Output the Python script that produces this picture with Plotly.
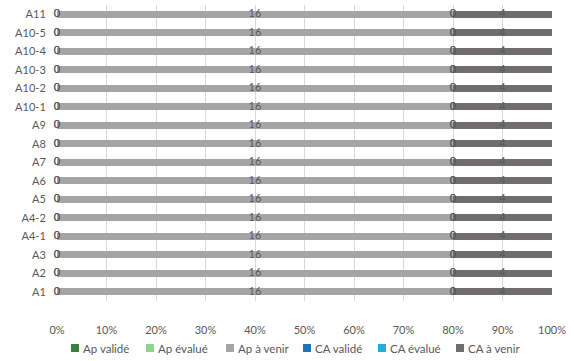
import plotly.graph_objects as go

categories = ["A1", "A2", "A3", "A4-1", "A4-2", "A5", "A6", "A7", "A8", "A9",
              "A10-1", "A10-2", "A10-3", "A10-4", "A10-5", "A11"]
ap_valide = [0] * 16
ap_evalue = [0] * 16
ap_avenir = [16] * 16
ca_valide = [0] * 16
ca_evalue = [0] * 16
ca_avenir = [4] * 16
tick_vals = [0, 10, 20, 30, 40, 50, 60, 70, 80, 90, 100]
tick_text = ["0%", "10%", "20%", "30%", "40%", "50%", "60%", "70%", "80%", "90%", "100%"]

series = [
    ("Ap validé", ap_valide, "#3b7f3a"),
    ("Ap évalué", ap_evalue, "#8fd48c"),
    ("Ap à venir", ap_avenir, "#a5a5a5"),
    ("CA validé", ca_valide, "#1f74b8"),
    ("CA évalué", ca_evalue, "#27aae1"),
    ("CA à venir", ca_avenir, "#6f6d6e"),
]

W, H = 574, 361
ML, MR, MT, MB = 57, 22, 5, 60
PW, PH = W - ML - MR, H - MT - MB

fig = go.Figure()
for name, vals, col in series:
    fig.add_trace(go.Bar(y=categories, x=vals, name=name, orientation="h",
                         marker=dict(color=col, line=dict(width=0)),
                         showlegend=False))

# data labels positioned at the centre of each (percent-normalised) segment
totals = [sum(s[1][i] for s in series) for i in range(len(categories))]
cum = [0.0] * len(categories)
for name, vals, col in series:
    xs, txt = [], []
    for i, v in enumerate(vals):
        pct = 100.0 * v / totals[i]
        xs.append(cum[i] + pct / 2)
        txt.append(str(v))
        cum[i] += pct
    fig.add_trace(go.Scatter(y=categories, x=xs, mode="text", text=txt,
                             textposition="middle center", cliponaxis=False,
                             textfont=dict(color="#5a5a5a", size=11),
                             showlegend=False, hoverinfo="skip"))

# legend drawn as a row of swatches + labels below the axis
legend_px = [75, 150, 230, 307, 382, 460]   # swatch centres (px)
legend_y_px = 348
half = 4
shapes, annotations = [], []
for (name, vals, col), cx in zip(series, legend_px):
    shapes.append(dict(type="rect", xref="paper", yref="paper",
                       x0=(cx - half - ML) / PW, x1=(cx + half - ML) / PW,
                       y0=(H - MB - legend_y_px - half) / PH, y1=(H - MB - legend_y_px + half) / PH,
                       fillcolor=col, line=dict(width=0)))
    annotations.append(dict(text=name, xref="paper", yref="paper",
                            x=(cx + half + 2 - ML) / PW, y=(H - MB - legend_y_px) / PH,
                            xanchor="left", yanchor="middle", showarrow=False,
                            font=dict(size=11.5, color="#595959")))

fig.update_layout(
    barmode="stack",
    barnorm="percent",
    bargap=0.62,
    width=W, height=H,
    margin=dict(l=ML, r=MR, t=MT, b=MB),
    paper_bgcolor="white", plot_bgcolor="white",
    font=dict(family="Lato", size=11, color="#595959"),
    showlegend=False,
    shapes=shapes,
    annotations=annotations,
    xaxis=dict(range=[0, 100], tickvals=tick_vals, ticktext=tick_text,
               showgrid=True, gridcolor="#d9d9d9", gridwidth=1, zeroline=False,
               ticks="outside", ticklen=19, tickcolor="rgba(0,0,0,0)",
               tickfont=dict(size=11, color="#595959")),
    yaxis=dict(categoryorder="array", categoryarray=categories,
               range=[-0.5, len(categories) - 0.5],
               showgrid=False, zeroline=False,
               ticks="outside", ticklen=8, tickcolor="rgba(0,0,0,0)",
               tickfont=dict(size=11, color="#595959")),
)

fig.write_html("out.html", config={"displayModeBar": False},
               post_script="document.body.style.margin='0';document.body.style.overflow='hidden';")
